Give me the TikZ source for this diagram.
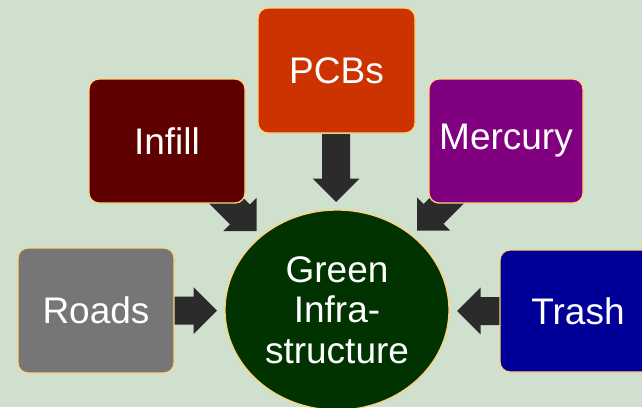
\documentclass[tikz,border=0pt]{standalone}
\usepackage{fontspec}
\setmainfont{Liberation Sans}
\usetikzlibrary{shapes.geometric}
\definecolor{bgcol}{HTML}{CFE0CE}
\definecolor{edgecol}{HTML}{FFD37A}
\definecolor{arrowcol}{HTML}{2B2B2B}
\definecolor{infillcol}{HTML}{5E0000}
\definecolor{pcbcol}{HTML}{CC3300}
\definecolor{mercurycol}{HTML}{800080}
\definecolor{roadcol}{HTML}{767676}
\definecolor{trashcol}{HTML}{000099}
\definecolor{giCol}{HTML}{003300}
\begin{document}
\begin{tikzpicture}[x=1pt,y=-1pt,
  box/.style={rectangle, rounded corners=10pt, draw=edgecol, line width=1.3pt,
    text=white, inner sep=0pt, font=\fontsize{37}{40.5}\selectfont},
  hub/.style={ellipse, draw=edgecol, line width=1.3pt, fill=giCol, text=white,
    inner sep=0pt, align=center, minimum width=224pt, minimum height=200pt,
    font=\fontsize{37}{40.5}\selectfont},
  pics/blockarrow/.style={code={
    \fill[arrowcol] (0,0) -- (-23.5,23.5) -- (-23.5,14) -- (-68,14) -- (-68,-14)
      -- (-23.5,-14) -- (-23.5,-23.5) -- cycle;}}
]
\fill[bgcol] (0,0) rectangle (642,407);
\useasboundingbox (0,0) rectangle (642,407);

% tips of the block arrows
\coordinate (tipPCB) at (336,202);
\coordinate (tipInfill) at (256.5,231);
\coordinate (tipMercury) at (417,230.5);
\coordinate (tipRoads) at (217,310.5);
\coordinate (tipTrash) at (457,311);

\pic[rotate=-90] at (tipPCB) {blockarrow};
\pic[rotate=-45] at (tipInfill) {blockarrow};
\pic[rotate=-135] at (tipMercury) {blockarrow};
\pic[rotate=0] at (tipRoads) {blockarrow};
\pic[rotate=180] at (tipTrash) {blockarrow};

\node[box, fill=infillcol, minimum width=156pt, minimum height=124pt] (infill) at (167,141) {Infill};
\node[box, fill=pcbcol, minimum width=157pt, minimum height=125pt] (pcb) at (336.5,70.5) {PCBs};
\node[box, fill=mercurycol, minimum width=154pt, minimum height=124pt] (mercury) at (506,141) {Mercury};
\node[box, fill=roadcol, minimum width=156pt, minimum height=125pt] (roads) at (96,310.5) {Roads};
\node[box, fill=trashcol, minimum width=156pt, minimum height=122pt] (trash) at (578,311) {Trash};
\node[hub] (gi) at (337,310) {Green\\Infra-\\structure};
\end{tikzpicture}
\end{document}
